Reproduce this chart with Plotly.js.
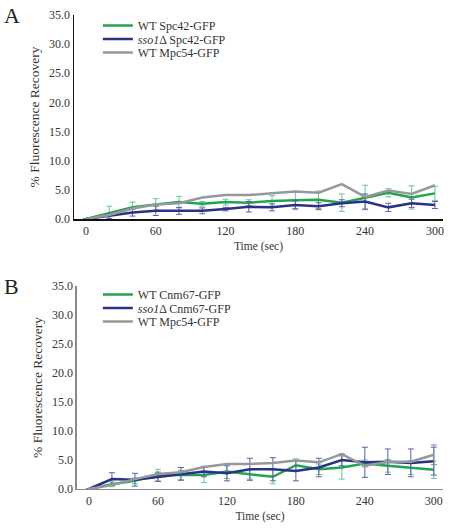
<!DOCTYPE html>
<html>
<head>
<meta charset="utf-8">
<script src="https://cdn.plot.ly/plotly-3.0.1.min.js"></script>
<style>html,body{margin:0;padding:0;background:#fff;}#chart{width:451px;height:528px;}</style>
</head>
<body>
<div id="chart"></div>
<script>
// Time points (sec)
const timeSec = [0,20,40,60,80,100,120,140,160,180,200,220,240,260,280,300];
const xTickVals = [0,60,120,180,240,300];

// Panel A
const aNames = ["WT Spc42-GFP", "<i>sso1</i>Δ Spc42-GFP", "WT Mpc54-GFP"];
const aWtSpc42 = [0,1.0,2.0,2.5,2.9,2.6,2.9,2.8,3.1,3.2,3.3,2.8,3.7,4.5,3.7,4.4];
const aWtSpc42Err = [0,1.2,0.9,1.0,1.0,0.4,0.5,0.5,0.9,1.4,1.5,1.5,2.1,0.7,2.0,1.2];
const aSso1Spc42 = [0,0.5,1.1,1.4,1.4,1.4,1.7,2.1,2.0,2.4,2.2,2.7,3.0,2.0,2.7,2.4];
const aSso1Spc42Err = [0,0.4,0.6,0.8,0.6,0.5,0.3,0.9,0.6,0.7,0.6,0.6,1.3,0.7,0.7,0.6];
const aWtMpc54 = [0,0.7,1.8,2.5,2.7,3.7,4.1,4.1,4.4,4.7,4.5,6.0,3.8,4.9,4.3,5.8];

// Panel B
const bNames = ["WT Cnm67-GFP", "<i>sso1</i>Δ Cnm67-GFP", "WT Mpc54-GFP"];
const bWtCnm67 = [0,0.8,1.4,2.4,2.4,2.4,3.0,2.5,2.1,4.1,3.4,3.7,4.4,4.0,3.7,3.3];
const bWtCnm67Err = [0,0.4,0.5,1.0,0.8,1.3,1.2,0.8,1.2,1.1,0.9,2.0,0.6,1.1,1.2,1.5];
const bSso1Cnm67 = [0,1.7,1.6,2.1,2.6,3.0,2.7,3.4,3.4,3.1,3.7,5.0,4.6,4.7,4.5,4.8];
const bSso1Cnm67Err = [0,1.1,1.1,0.8,1.1,0.9,1.3,1.9,2.0,1.7,1.6,1.0,2.6,2.2,2.4,2.4];
const bWtMpc54 = [0,0.7,1.7,2.6,2.9,3.8,4.3,4.3,4.5,4.9,4.6,6.0,4.0,4.7,4.7,5.9];
const bWtMpc54Err = [0,0,0,0,0,0,0,0,0,0,0,0,0,0,0,1.7];

const cGreen = "#22a34f", cNavy = "#2c3088", cGray = "#949a9c";
const eGreen = "#6cc39a", eNavy = "#5a61a6", eGray = "#7d88aa";

function tr(y, err, name, color, ecolor, xa, ya, leg) {
  const t = {x: timeSec, y: y, name: name, type: "scatter", mode: "lines",
    line: {color: color, width: 2.5}, xaxis: xa, yaxis: ya, legend: leg};
  if (err) t.error_y = {type: "data", array: err, visible: true, color: ecolor, thickness: 1, width: 3};
  return t;
}

const data = [
  tr(aWtSpc42, aWtSpc42Err, aNames[0], cGreen, eGreen, "x", "y", "legend"),
  tr(aSso1Spc42, aSso1Spc42Err, aNames[1], cNavy, eNavy, "x", "y", "legend2"),
  tr(aWtMpc54, null, aNames[2], cGray, eGray, "x", "y", "legend3"),
  tr(bWtCnm67, bWtCnm67Err, bNames[0], cGreen, eGreen, "x2", "y2", "legend4"),
  tr(bSso1Cnm67, bSso1Cnm67Err, bNames[1], cNavy, eNavy, "x2", "y2", "legend5"),
  tr(bWtMpc54, bWtMpc54Err, bNames[2], cGray, eGray, "x2", "y2", "legend6")
];

const serif = "'Liberation Serif', 'Times New Roman', serif";
function xax(domain, anchor, lineColor, range) {
  return {domain: domain, anchor: anchor, range: range, tickvals: xTickVals,
    showgrid: false, zeroline: false, showline: true, linecolor: lineColor, linewidth: 1.5,
    ticks: "", ticklen: 0, tickfont: {family: serif, size: 12, color: "#333"},
    title: {text: "Time (sec)", font: {family: serif, size: 11.5, color: "#333"}, standoff: 5}};
}
function yax(domain, anchor, lineColor) {
  return {domain: domain, anchor: anchor, range: [0, 35], dtick: 5, tickformat: ".1f",
    showgrid: false, zeroline: false, showline: true, linecolor: lineColor, linewidth: 1.5,
    ticks: "", tickfont: {family: serif, size: 12, color: "#333"},
    title: {text: "% Fluorescence Recovery", font: {family: serif, size: 13.5, color: "#333"}, standoff: 6}};
}
function leg(yc) {
  return {x: 0.217, y: yc, xanchor: "left", yanchor: "middle", bgcolor: "rgba(0,0,0,0)",
    font: {family: serif, size: 12, color: "#333"}, itemwidth: 30};
}

const layout = {
  width: 451, height: 528, margin: {l: 0, r: 0, t: 0, b: 0},
  paper_bgcolor: "#fff", plot_bgcolor: "#fff", showlegend: true,
  xaxis: xax([0.1641, 0.9823], "y", "#111", [-10.3, 307]),
  yaxis: yax([0.5852, 0.9716], "x", "#111"),
  xaxis2: xax([0.1707, 0.9823], "y2", "#8a8a8a", [-10.4, 308]),
  yaxis2: yax([0.0739, 0.4583], "x2", "#8a8a8a"),
  legend: leg(1 - 25.5 / 528),
  legend2: leg(1 - 39 / 528),
  legend3: leg(1 - 52.5 / 528),
  legend4: leg(1 - 294.5 / 528),
  legend5: leg(1 - 308 / 528),
  legend6: leg(1 - 321.5 / 528),
  annotations: [
    {text: "A", xref: "paper", yref: "paper", x: 0.005, y: 0.998, xanchor: "left", yanchor: "top",
      showarrow: false, font: {family: serif, size: 22, color: "#222"}},
    {text: "B", xref: "paper", yref: "paper", x: 0.005, y: 0.485, xanchor: "left", yanchor: "top",
      showarrow: false, font: {family: serif, size: 22, color: "#222"}}
  ]
};

Plotly.newPlot("chart", data, layout, {displayModeBar: false, staticPlot: true});
</script>
</body>
</html>
